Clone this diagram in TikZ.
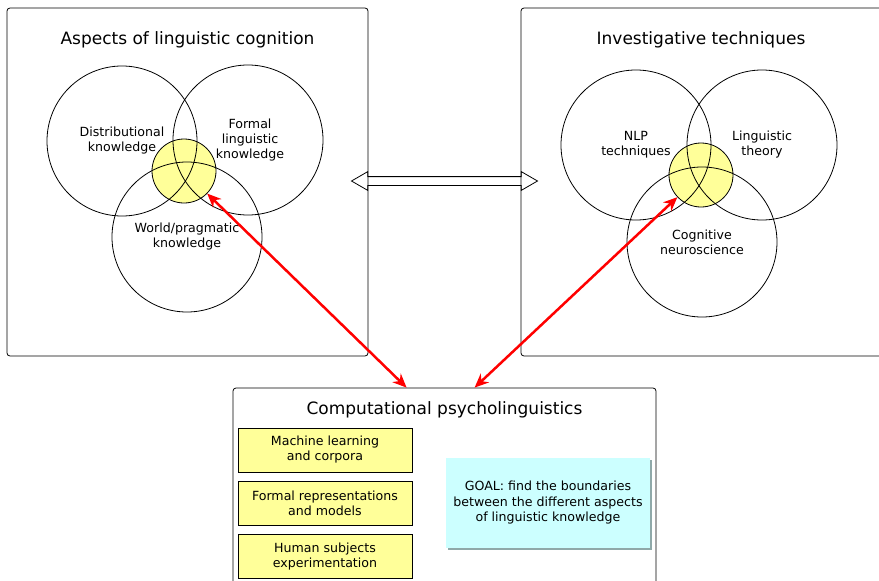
\documentclass[tikz,border=0pt]{standalone}
\usepackage{fontspec}
\setmainfont{DejaVu Sans}
\usetikzlibrary{arrows.meta,shapes.arrows,shadows}

\definecolor{pale}{HTML}{FFFF99}
\definecolor{sky}{HTML}{CCFFFF}
\definecolor{shade}{HTML}{8FA9A9}

\begin{document}
\begin{tikzpicture}[x=1pt,y=-1pt,
	panel/.style={draw,rounded corners=3pt,line width=0.8pt,inner sep=0pt},
	ring/.style={draw,circle,minimum size=150pt,inner sep=0pt,line width=0.8pt,align=center,font=\fontsize{12.6}{15}\selectfont},
	core/.style={draw,circle,fill=pale,minimum size=64pt,inner sep=0pt,line width=0.8pt},
	ttl/.style={font=\fontsize{17}{20}\selectfont},
	method/.style={draw,fill=pale,minimum width=174pt,minimum height=44pt,inner sep=0pt,align=center,line width=0.8pt,font=\fontsize{12.6}{15}\selectfont},
	link/.style={red,line width=2.5pt,{Stealth[length=14pt,width=12pt]}-{Stealth[length=14pt,width=12pt]}}]
	
	\useasboundingbox (0,0) rectangle (879,581);
	
	% panels
	\node[panel,minimum width=361pt,minimum height=348pt] (asp) at (187.5,182) {};
	\node[panel,minimum width=364pt,minimum height=348pt] (inv) at (703,182) {};
	\node[panel,minimum width=423pt,minimum height=212pt] (comp) at (444.5,494) {};
	
	\node[ttl] (t1) at (187.5,40) {Aspects of linguistic cognition};
	\node[ttl] (t2) at (701,40) {Investigative techniques};
	\node[ttl] (t3) at (444.5,410) {Computational psycholinguistics};
	
	% left venn
	\node[core] (lc) at (184,171) {};
	\node[ring] (dist) at (122,141) {Distributional\\knowledge};
	\node[ring] (form) at (248,140) {\hspace*{4pt}Formal\\\hspace*{4pt}linguistic\\\hspace*{4pt}knowledge};
	\node[ring] (wrld) at (187,237) {World/pragmatic\\knowledge};
	
	% right venn
	\node[core] (rc) at (701,175) {};
	\node[ring] (nlp) at (636,145) {NLP\\techniques};
	\node[ring] (ling) at (762,145) {Linguistic\\theory};
	\node[ring] (cogn) at (702,242) {Cognitive\\neuroscience};
	
	\node[draw,double arrow,minimum height=186pt,inner sep=4pt,double arrow head extend=5pt,double arrow tip angle=60,line width=0.8pt] (bi) at (444.5,181) {};
	
	\node[method] (m1) at (325,450) {Machine learning\\and corpora};
	\node[method] (m2) at (325,503.5) {Formal representations\\and models};
	\node[method] (m3) at (325,556.5) {Human subjects\\experimentation};
	
	\node[fill=sky,minimum width=204pt,minimum height=90pt,align=center,font=\fontsize{12.6}{15.5}\selectfont,drop shadow={shadow xshift=1.5pt,shadow yshift=-1.5pt,fill=shade,opacity=1}] (goal) at (548,503) {GOAL: find the boundaries\\between the different aspects\\of linguistic knowledge};
	
	\draw[link] (lc) -- ([xshift=174pt]comp.north west);
	\draw[link] (rc) -- ([xshift=242pt]comp.north west);
	
\end{tikzpicture}
\end{document}
